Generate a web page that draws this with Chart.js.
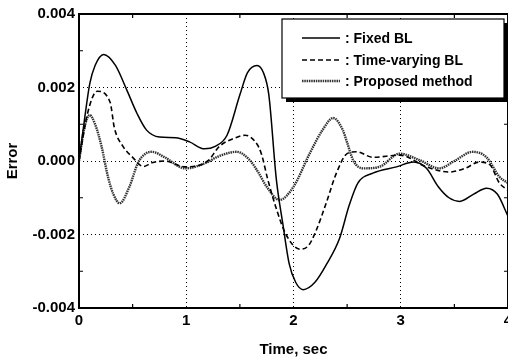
<!DOCTYPE html>
<html>
<head>
<meta charset="utf-8">
<script src="https://cdn.jsdelivr.net/npm/chart.js@4"></script>
<style>
  html, body { margin: 0; padding: 0; background: #fff; }
</style>
</head>
<body>
<canvas id="myChart" width="508" height="361"></canvas>
<script>
// Series data (time in sec, error)
const timeFixed = [0, 0.05, 0.1, 0.15, 0.23, 0.34, 0.45, 0.54, 0.63, 0.75, 0.9, 1.03, 1.17, 1.27, 1.38, 1.5, 1.57, 1.66, 1.72, 1.77, 1.84, 1.9, 1.96, 2.02, 2.09, 2.2, 2.31, 2.43, 2.52, 2.6, 2.74, 2.96, 3.12, 3.24, 3.35, 3.45, 3.55, 3.68, 3.8, 3.9, 4.0];
const errFixed = [0, 0.0011, 0.0021, 0.0026, 0.0029, 0.0026, 0.0019, 0.0013, 0.00084, 0.00065, 0.00063, 0.00052, 0.00033, 0.0004, 0.0007, 0.0018, 0.0024, 0.0026, 0.0024, 0.0018, -0.0005, -0.0017, -0.0028, -0.0033, -0.0035, -0.0033, -0.0028, -0.0021, -0.0012, -0.0006, -0.00033, -0.00016, -0.00003, -0.0002, -0.0007, -0.001, -0.0011, -0.0009, -0.00074, -0.0009, -0.0015];

const timeVarying = [0, 0.08, 0.17, 0.29, 0.33, 0.41, 0.5, 0.6, 0.68, 0.8, 0.99, 1.2, 1.31, 1.45, 1.55, 1.65, 1.7, 1.76, 1.84, 1.93, 2.06, 2.14, 2.21, 2.31, 2.4, 2.5, 2.59, 2.74, 2.99, 3.24, 3.45, 3.6, 3.73, 3.83, 3.92, 4.0];
const errVarying = [0, 0.0013, 0.0019, 0.0016, 0.0009, 0.0004, 0.0001, -0.00015, -0.00005, 0, -0.00016, 0, 0.0004, 0.00062, 0.0007, 0.0005, 0.0002, -0.0005, -0.0013, -0.002, -0.0024, -0.0023, -0.0019, -0.0011, -0.00033, 0.0002, 0.00025, 0.0001, 0.00016, -0.00016, -0.0003, -0.0002, -0.00003, -0.0001, -0.0006, -0.0008];

const timeProposed = [0, 0.05, 0.1, 0.15, 0.21, 0.27, 0.32, 0.38, 0.47, 0.55, 0.62, 0.68, 0.8, 0.99, 1.2, 1.28, 1.47, 1.59, 1.67, 1.75, 1.87, 2.0, 2.15, 2.27, 2.37, 2.46, 2.5, 2.56, 2.65, 2.8, 2.99, 3.17, 3.36, 3.5, 3.67, 3.8, 3.92, 4.0];
const errProposed = [0, 0.0009, 0.00125, 0.001, 0.0004, -0.00043, -0.0009, -0.00115, -0.0007, -0.00005, 0.0002, 0.00025, 0.0001, -0.0002, -0.00003, 0.0001, 0.00025, 0.00003, -0.0003, -0.0007, -0.00106, -0.0007, 0.0002, 0.00084, 0.00117, 0.00084, 0.0005, 0, -0.0002, -0.00016, 0.0002, 0.00003, -0.0002, 0, 0.00025, 0.0001, -0.00043, -0.0006];

const seriesLabels = [": Fixed BL", ": Time-varying BL", ": Proposed method"];
const xTicks = [0, 1, 2, 3, 4];
const yTicks = [-0.004, -0.002, 0, 0.002, 0.004];

const FONT = "'Liberation Sans', Arial, Helvetica, sans-serif";

function pts(t, v) {
  return t.map((x, i) => ({ x: x, y: v[i] }));
}

// Frame, inward minor ticks and the boxed legend with shadow
const framePlugin = {
  id: "frame",
  afterDraw(chart) {
    const ctx = chart.ctx;
    const a = chart.chartArea;
    const xs = chart.scales.x, ys = chart.scales.y;
    ctx.save();
    ctx.strokeStyle = "#000";
    ctx.lineWidth = 2;
    ctx.strokeRect(a.left, a.top, a.right - a.left, a.bottom - a.top);

    // minor ticks
    ctx.lineWidth = 1.2;
    for (let t = 0.5; t < 4; t += 1) {
      const px = xs.getPixelForValue(t);
      ctx.beginPath();
      ctx.moveTo(px, a.bottom); ctx.lineTo(px, a.bottom - 4);
      ctx.moveTo(px, a.top); ctx.lineTo(px, a.top + 4);
      ctx.stroke();
    }
    for (let v = -0.003; v < 0.004; v += 0.002) {
      const py = ys.getPixelForValue(v);
      ctx.beginPath();
      ctx.moveTo(a.left, py); ctx.lineTo(a.left + 4, py);
      ctx.moveTo(a.right, py); ctx.lineTo(a.right - 4, py);
      ctx.stroke();
    }

    // legend
    const bx = 282, by = 19, bw = 222, bh = 79;
    ctx.fillStyle = "#000";
    ctx.fillRect(bx + 4, by + 4, bw, bh);
    ctx.fillStyle = "#fff";
    ctx.fillRect(bx, by, bw, bh);
    ctx.lineWidth = 1.2;
    ctx.strokeRect(bx, by, bw, bh);

    const rows = [38, 60, 81];
    chart.data.datasets.forEach((ds, i) => {
      ctx.save();
      ctx.strokeStyle = ds.borderColor;
      ctx.lineWidth = ds.borderWidth;
      ctx.setLineDash(ds.borderDash || []);
      ctx.beginPath();
      ctx.moveTo(302, rows[i]);
      ctx.lineTo(340, rows[i]);
      ctx.stroke();
      ctx.restore();
      ctx.fillStyle = "#000";
      ctx.font = "bold 14px " + FONT;
      ctx.textBaseline = "middle";
      ctx.fillText(ds.label, 345, rows[i] + 1);
    });
    ctx.restore();
  }
};

const ctx = document.getElementById("myChart").getContext("2d");
new Chart(ctx, {
  type: "line",
  data: {
    datasets: [
      {
        label: seriesLabels[0],
        data: pts(timeFixed, errFixed),
        borderColor: "#000",
        borderWidth: 1.5,
        cubicInterpolationMode: "monotone",
        pointRadius: 0
      },
      {
        label: seriesLabels[1],
        data: pts(timeVarying, errVarying),
        borderColor: "#000",
        borderWidth: 1.6,
        borderDash: [5, 3],
        cubicInterpolationMode: "monotone",
        pointRadius: 0
      },
      {
        label: seriesLabels[2],
        data: pts(timeProposed, errProposed),
        borderColor: "#333",
        borderWidth: 2.4,
        borderDash: [1.5, 0.8],
        cubicInterpolationMode: "monotone",
        pointRadius: 0
      }
    ]
  },
  options: {
    responsive: false,
    animation: false,
    devicePixelRatio: 1,
    layout: { padding: { top: 14, right: 0, bottom: 0, left: 0 } },
    plugins: {
      legend: { display: false },
      tooltip: { enabled: false }
    },
    scales: {
      x: {
        type: "linear",
        min: 0,
        max: 4,
        afterBuildTicks: s => { s.ticks = xTicks.map(v => ({ value: v })); },
        afterFit: s => { s.height = 53; s.paddingLeft = 0; s.paddingRight = 0; },
        ticks: {
          font: { family: FONT, size: 15, weight: "bold" },
          color: "#000",
          padding: 4,
          maxRotation: 0,
          callback: v => String(v)
        },
        grid: { color: "#000", lineWidth: 1, drawTicks: false },
        border: { display: false, dash: [1, 3] },
        title: {
          display: true,
          text: "Time, sec",
          color: "#000",
          font: { family: FONT, size: 15, weight: "bold" },
          padding: { top: 0, bottom: 2 }
        }
      },
      y: {
        type: "linear",
        min: -0.004,
        max: 0.004,
        afterBuildTicks: s => { s.ticks = yTicks.map(v => ({ value: v })); },
        afterFit: s => { s.width = 79; },
        ticks: {
          font: { family: FONT, size: 15, weight: "bold" },
          color: "#000",
          padding: 4,
          callback: v => (Math.abs(v) < 1e-9 ? "0.000" : v.toFixed(3))
        },
        grid: { color: "#000", lineWidth: 1, drawTicks: false },
        border: { display: false, dash: [1, 3] },
        title: {
          display: true,
          text: "Error",
          color: "#000",
          font: { family: FONT, size: 15, weight: "bold" },
          padding: { top: 4, bottom: 0 }
        }
      }
    }
  },
  plugins: [framePlugin]
});
</script>
</body>
</html>
